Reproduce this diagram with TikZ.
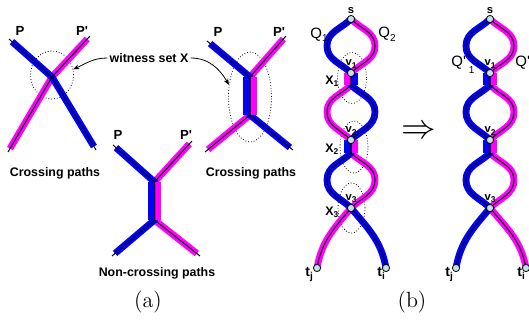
\documentclass[tikz,border=0pt]{standalone}
\usepackage{fontspec}
\newfontfamily\hv{Liberation Sans}
\usetikzlibrary{arrows.meta, positioning, shapes.geometric}
\definecolor{vertexfill}{RGB}{196,226,226}
\definecolor{pathblue}{RGB}{0,0,255}
\definecolor{pathpink}{RGB}{255,0,255}
\newcommand{\lowidx}[2][-1.8pt]{\raisebox{#1}{\fontsize{5}{5}\selectfont #2}}
\newcommand{\tinyidx}[1]{\raisebox{-1.3pt}{\fontsize{4.2}{5}\selectfont #1}}

\begin{document}
\begin{tikzpicture}[
    x=0.5pt, y=0.5pt,
    >={Stealth[length=3pt, width=2.4pt]},
    lbl/.style={inner sep=0pt, font=\hv\bfseries\fontsize{6.2}{7}\selectfont},
    plbl/.style={inner sep=0pt, font=\hv\bfseries\fontsize{6.6}{7}\selectfont},
    qlbl/.style={inner sep=0pt, font=\hv\fontsize{7.5}{8}\selectfont},
    vlbl/.style={inner sep=0pt, font=\hv\bfseries\fontsize{5.6}{6}\selectfont},
    tlbl/.style={inner sep=0pt, font=\hv\bfseries\fontsize{7}{8}\selectfont},
    bluestrand/.style={draw=pathblue, line width=3.4pt},
    pinkstrand/.style={draw=pathpink, line width=3.4pt},
    core/.style={draw=black, line width=0.5pt},
    trim/.style={shorten <=2pt, shorten >=2pt},
    witness/.style={draw, ellipse, densely dotted, line width=0.4pt, inner sep=0pt},
    vtx/.style={circle, draw, line width=0.4pt, fill=vertexfill, inner sep=0pt, minimum size=3.6pt},
]
\useasboundingbox (0,0) rectangle (529,-321);

% --- (a) crossing paths, left ---
\node[witness, minimum width=21.5pt, minimum height=24pt] (w1) at (52,-75) {};
\draw[pinkstrand, trim] (8,-152) -- (52,-77) -- (90,-36);
\draw[bluestrand, trim] (9,-39) -- (52,-77) -- (96,-150);
\draw[core] (8,-152) -- (52,-77) -- (90,-36);
\draw[core] (9,-39) -- (52,-77) -- (96,-150);
\node[plbl] (p1) at (20,-31) {P};
\node[plbl] (pp1) at (82,-31) {P'};
\node[lbl] (cross1) at (55,-173) {Crossing paths};

% --- (a) crossing paths, right ---
\node[witness, minimum width=21.5pt, minimum height=45pt] (w2) at (250,-97) {};
\draw[pinkstrand, trim] (286,-36) -- (250,-77) -- (250,-115) -- (205,-152);
\draw[bluestrand, trim] (207,-41) -- (250,-77) -- (250,-115) -- (293,-150);
\draw[bluestrand] (246.6,-77) -- (246.6,-115);
\draw[pinkstrand] (253.4,-77) -- (253.4,-115);
\draw[core] (286,-36) -- (250,-77) -- (250,-115) -- (205,-152);
\draw[core] (207,-41) -- (250,-77) -- (250,-115) -- (293,-150);
\node[plbl] (p2) at (218,-32) {P};
\node[plbl] (pp2) at (279,-32) {P'};
\node[lbl] (cross2) at (251,-173) {Crossing paths};

% --- (a) non-crossing paths ---
\draw[pinkstrand, trim] (192,-141) -- (154.5,-182) -- (154.5,-220) -- (200,-256);
\draw[bluestrand, trim] (113,-145) -- (154.5,-182) -- (154.5,-220) -- (112,-256);
\draw[bluestrand] (151.1,-182) -- (151.1,-220);
\draw[pinkstrand] (157.9,-182) -- (157.9,-220);
\draw[core] (192,-141) -- (154.5,-182) -- (154.5,-220) -- (200,-256);
\draw[core] (113,-145) -- (154.5,-182) -- (154.5,-220) -- (112,-256);
\node[plbl] (p3) at (118,-135) {P};
\node[plbl] (pp3) at (186,-135) {P'};
\node[lbl] (noncross) at (157,-273) {Non-crossing paths};

% --- witness set label ---
\node[lbl, inner sep=1pt] (wit) at (149,-58) {witness set X};
\draw[->, line width=0.4pt] (wit.west) to[out=180,in=25] (w1.15);
\draw[->, line width=0.4pt] (wit.east) to[out=0,in=120] (w2.150);

% --- (b) left: paths Q1, Q2 ---
\coordinate (s1) at (351,-19);
\coordinate (v11) at (351,-73);
\coordinate (a11) at (351,-85);
\coordinate (v12) at (351,-140);
\coordinate (a12) at (351,-153);
\coordinate (v13) at (351,-208);
\coordinate (tj1) at (317,-268);
\coordinate (ti1) at (386,-268);

\node[witness, minimum width=14.5pt, minimum height=25.5pt] (x1e) at (352,-78) {};
\node[witness, minimum width=14pt, minimum height=26pt] (x2e) at (354,-147) {};
\node[witness, minimum width=13.5pt, minimum height=25pt] (x3e) at (351.5,-208) {};

\draw[pinkstrand] (s1) to[out=-45,in=90] (375,-46) to[out=-90,in=45] (v11) -- (a11)
    to[out=225,in=90] (327,-112) to[out=-90,in=135] (v12) -- (a12)
    to[out=-45,in=90] (375,-180) to[out=-90,in=45] (v13) to[out=-130,in=80] (tj1);
\draw[bluestrand] (s1) to[out=225,in=90] (327,-46) to[out=-90,in=135] (v11) -- (a11)
    to[out=-45,in=90] (375,-112) to[out=-90,in=45] (v12) -- (a12)
    to[out=225,in=90] (327,-180) to[out=-90,in=135] (v13) to[out=-50,in=100] (ti1);
\draw[bluestrand] (354.4,-73) -- (354.4,-85);
\draw[pinkstrand] (347.6,-73) -- (347.6,-85);
\draw[bluestrand] (347.6,-140) -- (347.6,-153);
\draw[pinkstrand] (354.4,-140) -- (354.4,-153);
\draw[core] (s1) to[out=-45,in=90] (375,-46) to[out=-90,in=45] (v11) -- (a11)
    to[out=225,in=90] (327,-112) to[out=-90,in=135] (v12) -- (a12)
    to[out=-45,in=90] (375,-180) to[out=-90,in=45] (v13) to[out=-130,in=80] (tj1);
\draw[core] (s1) to[out=225,in=90] (327,-46) to[out=-90,in=135] (v11) -- (a11)
    to[out=-45,in=90] (375,-112) to[out=-90,in=45] (v12) -- (a12)
    to[out=225,in=90] (327,-180) to[out=-90,in=135] (v13) to[out=-50,in=100] (ti1);

\node[vtx] (ns1) at (s1) {};
\node[vtx] (nv11) at (v11) {};
\node[vtx] (nv12) at (v12) {};
\node[vtx] (nv13) at (v13) {};
\node[vtx] (ntj1) at (tj1) {};
\node[vtx] (nti1) at (ti1) {};

\node[vlbl, above=0.6pt of ns1] (ls1) {s};
\node[vlbl, above=0.3pt of nv11] (lv11) {v\tinyidx{1}};
\node[vlbl, above=0.3pt of nv12] (lv12) {v\tinyidx{2}};
\node[vlbl, above=0.3pt of nv13] (lv13) {v\tinyidx{3}};
\node[lbl, anchor=base west] (lx1) at (325,-84) {X\tinyidx{1}};
\node[lbl, anchor=base west] (lx2) at (325,-152) {X\tinyidx{2}};
\node[lbl, anchor=base west] (lx3) at (325,-215) {X\tinyidx{3}};
\node[qlbl, anchor=base west] (q1) at (310,-38) {Q\lowidx{1}};
\node[qlbl, anchor=base west] (q2) at (378,-37.5) {Q\lowidx{2}};
\node[tlbl, anchor=base west] (ltj1) at (305,-276) {t\lowidx[-1.5pt]{j}};
\node[tlbl, anchor=base west] (lti1) at (377,-276) {t\lowidx[-1.5pt]{i}};

% --- implication ---
\node[font=\fontsize{17}{17}\selectfont, inner sep=0pt] (imp) at (419,-132) {$\Rightarrow$};

% --- (b) right: paths Q'1, Q'2 ---
\coordinate (s2) at (490,-19);
\coordinate (v21) at (490,-73);
\coordinate (a21) at (490,-85);
\coordinate (v22) at (490,-140);
\coordinate (a22) at (490,-153);
\coordinate (v23) at (490,-208);
\coordinate (tj2) at (456,-268);
\coordinate (ti2) at (526,-268);

\draw[pinkstrand] (s2) to[out=-45,in=90] (514,-46) to[out=-90,in=45] (v21) -- (a21)
    to[out=-45,in=90] (514,-112) to[out=-90,in=45] (v22) -- (a22)
    to[out=-45,in=90] (514,-180) to[out=-90,in=45] (v23) to[out=-50,in=100] (ti2);
\draw[bluestrand] (s2) to[out=225,in=90] (466,-46) to[out=-90,in=135] (v21) -- (a21)
    to[out=225,in=90] (466,-112) to[out=-90,in=135] (v22) -- (a22)
    to[out=225,in=90] (466,-180) to[out=-90,in=135] (v23) to[out=-130,in=80] (tj2);
\draw[bluestrand] (486.6,-73) -- (486.6,-85);
\draw[pinkstrand] (493.4,-73) -- (493.4,-85);
\draw[bluestrand] (486.6,-140) -- (486.6,-153);
\draw[pinkstrand] (493.4,-140) -- (493.4,-153);
\draw[core] (s2) to[out=-45,in=90] (514,-46) to[out=-90,in=45] (v21) -- (a21)
    to[out=-45,in=90] (514,-112) to[out=-90,in=45] (v22) -- (a22)
    to[out=-45,in=90] (514,-180) to[out=-90,in=45] (v23) to[out=-50,in=100] (ti2);
\draw[core] (s2) to[out=225,in=90] (466,-46) to[out=-90,in=135] (v21) -- (a21)
    to[out=225,in=90] (466,-112) to[out=-90,in=135] (v22) -- (a22)
    to[out=225,in=90] (466,-180) to[out=-90,in=135] (v23) to[out=-130,in=80] (tj2);

\node[vtx] (ns2) at (s2) {};
\node[vtx] (nv21) at (v21) {};
\node[vtx] (nv22) at (v22) {};
\node[vtx] (nv23) at (v23) {};
\node[vtx] (ntj2) at (tj2) {};
\node[vtx] (nti2) at (ti2) {};

\node[vlbl, above=0.6pt of ns2] (ls2) {s};
\node[vlbl, above=0.3pt of nv21] (lv21) {v\tinyidx{1}};
\node[vlbl, above=0.3pt of nv22] (lv22) {v\tinyidx{2}};
\node[vlbl, above=0.3pt of nv23] (lv23) {v\tinyidx{3}};
\node[qlbl, anchor=base west] (qq1) at (451,-66) {Q'\kern1.5pt\lowidx[-3.5pt]{1}};
\node[qlbl, anchor=base west] (qq2) at (515,-66) {Q'\kern1.5pt\lowidx[-3.5pt]{2}};
\node[tlbl, anchor=base west] (ltj2) at (445,-276) {t\lowidx[-1.5pt]{j}};
\node[tlbl, anchor=base west] (lti2) at (517,-276) {t\lowidx[-1.5pt]{i}};

% --- captions ---
\node[font=\fontsize{11}{13}\selectfont] (capa) at (148,-302) {(a)};
\node[font=\fontsize{11}{13}\selectfont] (capb) at (412,-302) {(b)};

\end{tikzpicture}
\end{document}
